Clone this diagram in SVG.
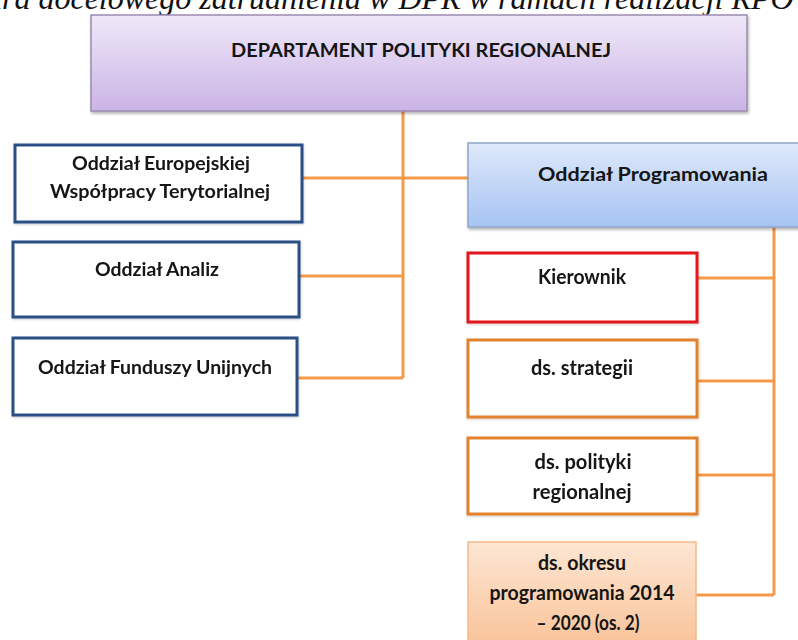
<svg xmlns="http://www.w3.org/2000/svg" width="798" height="640" viewBox="0 0 798 640">
<style>
.t{font-family:Lato,"Liberation Sans",sans-serif;font-weight:700;fill:#151515;text-anchor:middle;font-size:19px}
.r{font-size:20px}
.blue{fill:#fff;stroke:#2B4F86;stroke-width:3}
.red{fill:#fff;stroke:#E3131B;stroke-width:3}
.orange{fill:#fff;stroke:#E2822F;stroke-width:3}
.conn{stroke:#F39A48;stroke-width:3;fill:none}
.title{font-family:"Liberation Serif",serif;font-style:italic;font-size:32px;fill:#111}
</style>
<defs>
<linearGradient id="gPurple" x1="0" y1="0" x2="0" y2="1">
<stop offset="0" stop-color="#EFE8F8"/>
<stop offset="1" stop-color="#CBB4E6"/>
</linearGradient>
<linearGradient id="gBlue" x1="0" y1="0" x2="0" y2="1">
<stop offset="0" stop-color="#DFE9FA"/>
<stop offset="1" stop-color="#A6C3F3"/>
</linearGradient>
<linearGradient id="gOrange" x1="0" y1="0" x2="0" y2="1">
<stop offset="0" stop-color="#FDE6D3"/>
<stop offset="1" stop-color="#F9C196"/>
</linearGradient>
<filter id="sh" x="-5%" y="-10%" width="110%" height="130%">
<feDropShadow dx="1" dy="2" stdDeviation="1.5" flood-color="#000" flood-opacity="0.3"/>
</filter>
<filter id="sh2" x="-5%" y="-10%" width="110%" height="130%">
<feDropShadow dx="0.5" dy="1" stdDeviation="1" flood-color="#000" flood-opacity="0.2"/>
</filter>
</defs>

<text class="title" x="-14" y="9">ura docelowego zatrudnienia w DPR w ramach realizacji RPO</text>

<g id="connectors">
<path class="conn" d="M403 111 V378"/>
<path class="conn" d="M302 178 H468"/>
<path class="conn" d="M299 276 H403"/>
<path class="conn" d="M297 378 H403"/>
<path class="conn" d="M774 227 V595"/>
<path class="conn" d="M697 278 H774"/>
<path class="conn" d="M697 381 H774"/>
<path class="conn" d="M697 475 H774"/>
<path class="conn" d="M696 595 H774"/>
</g>

<g id="dpr">
<rect x="91" y="15" width="656" height="96" fill="url(#gPurple)" stroke="#9A8BB0" stroke-width="1.5" filter="url(#sh)"/>
<text class="t" x="421" y="57" textLength="380" lengthAdjust="spacingAndGlyphs">DEPARTAMENT POLITYKI REGIONALNEJ</text>
</g>

<g id="oewt" filter="url(#sh2)">
<rect class="blue" x="15" y="145" width="287" height="77"/>
<text class="t" x="161" y="170" textLength="178" lengthAdjust="spacingAndGlyphs">Oddział Europejskiej</text>
<text class="t" x="160" y="198" textLength="220" lengthAdjust="spacingAndGlyphs">Współpracy Terytorialnej</text>
</g>

<g id="oa" filter="url(#sh2)">
<rect class="blue" x="13" y="242" width="286" height="75"/>
<text class="t" x="157" y="276" textLength="124" lengthAdjust="spacingAndGlyphs">Oddział Analiz</text>
</g>

<g id="ofu" filter="url(#sh2)">
<rect class="blue" x="13" y="338" width="284" height="77"/>
<text class="t" x="155" y="374" textLength="234" lengthAdjust="spacingAndGlyphs">Oddział Funduszy Unijnych</text>
</g>

<g id="op">
<rect x="468" y="143" width="334" height="84" fill="url(#gBlue)" stroke="#8FA6C8" stroke-width="1.5" filter="url(#sh)"/>
<text class="t" x="653" y="181" font-size="21" textLength="230" lengthAdjust="spacingAndGlyphs">Oddział Programowania</text>
</g>

<g id="kier" filter="url(#sh2)">
<rect class="red" x="468" y="253" width="229" height="69"/>
<text class="t r" x="582" y="284" textLength="88" lengthAdjust="spacingAndGlyphs">Kierownik</text>
</g>

<g id="strat" filter="url(#sh2)">
<rect class="orange" x="468" y="340" width="229" height="77"/>
<text class="t r" x="582" y="375" textLength="102" lengthAdjust="spacingAndGlyphs">ds. strategii</text>
</g>

<g id="polit" filter="url(#sh2)">
<rect class="orange" x="468" y="438" width="229" height="76"/>
<text class="t r" x="583" y="469" textLength="97" lengthAdjust="spacingAndGlyphs">ds. polityki</text>
<text class="t r" x="582" y="499" textLength="99" lengthAdjust="spacingAndGlyphs">regionalnej</text>
</g>

<g id="okres">
<rect x="468" y="542" width="228" height="110" fill="url(#gOrange)" stroke="#F5B98A" stroke-width="1.5"/>
<text class="t r" x="582" y="570" textLength="88" lengthAdjust="spacingAndGlyphs">ds. okresu</text>
<text class="t r" x="582" y="600" textLength="185" lengthAdjust="spacingAndGlyphs">programowania 2014</text>
<text class="t r" x="588" y="630" textLength="103" lengthAdjust="spacingAndGlyphs">– 2020 (os. 2)</text>
</g>
</svg>
